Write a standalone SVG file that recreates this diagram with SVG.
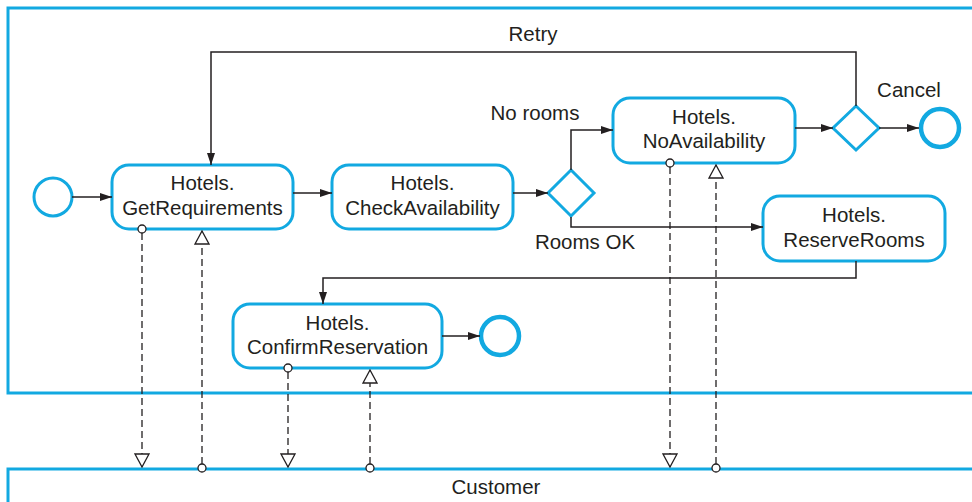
<svg xmlns="http://www.w3.org/2000/svg" width="972" height="502" viewBox="0 0 972 502">
<defs>
<style>
.pool{fill:none;stroke:#12a9e1;stroke-width:3}
.task{fill:#fff;stroke:#12a9e1;stroke-width:3}
.gw{fill:#fff;stroke:#12a9e1;stroke-width:3}
.ev{fill:#fff;stroke:#12a9e1;stroke-width:3}
.evend{fill:#fff;stroke:#12a9e1;stroke-width:4.5}
.t{font-family:"Liberation Sans",Arial,sans-serif;font-size:20.5px;fill:#231f20;text-anchor:middle}
.flow{fill:none;stroke:#231f20;stroke-width:1.5}
.msg{fill:none;stroke:#231f20;stroke-width:1.3;stroke-dasharray:7 4}
.mc{fill:#fff;stroke:#231f20;stroke-width:1.3}
</style>
<marker id="arr" viewBox="0 0 12 8" refX="12" refY="4" markerWidth="12" markerHeight="8" markerUnits="userSpaceOnUse" orient="auto">
<path d="M0,0 L12,4 L0,8 Z" fill="#231f20"/>
</marker>
<marker id="tri" viewBox="0 0 15 16" refX="14" refY="8" markerWidth="15" markerHeight="16" markerUnits="userSpaceOnUse" orient="auto">
<path d="M1,1 L14,8 L1,15 Z" fill="#fff" stroke="#231f20" stroke-width="1.3"/>
</marker>
</defs>
<rect width="972" height="502" fill="#fff"/>
<g id="pool-hotels"><rect class="pool" x="8" y="8" width="1000" height="385"/></g>
<g id="pool-customer"><rect class="pool" x="8" y="469" width="1000" height="60"/><text class="t" x="496" y="494">Customer</text></g>

<g id="start"><circle class="ev" cx="53" cy="197" r="19"/></g>
<g id="getRequirements"><rect class="task" x="112" y="165" width="181" height="64" rx="17"/><text class="t" x="202.5" y="190">Hotels.</text><text class="t" x="202.5" y="215">GetRequirements</text></g>
<g id="checkAvailability"><rect class="task" x="332" y="165" width="181" height="64" rx="17"/><text class="t" x="422.5" y="190">Hotels.</text><text class="t" x="422.5" y="215">CheckAvailability</text></g>
<g id="gateway1"><path class="gw" d="M571,170 L594,193 L571,216 L548,193 Z"/></g>
<g id="noAvailability"><rect class="task" x="613" y="98" width="182" height="65" rx="17"/><text class="t" x="704" y="124">Hotels.</text><text class="t" x="704" y="148">NoAvailability</text></g>
<g id="gateway2"><path class="gw" d="M856,106 L879,128 L856,150 L833,128 Z"/></g>
<g id="endCancel"><circle class="evend" cx="940" cy="128" r="19"/></g>
<g id="reserveRooms"><rect class="task" x="763" y="196" width="182" height="65" rx="17"/><text class="t" x="854" y="222">Hotels.</text><text class="t" x="854" y="247">ReserveRooms</text></g>
<g id="confirmReservation"><rect class="task" x="233" y="304" width="209" height="64" rx="17"/><text class="t" x="337.5" y="330">Hotels.</text><text class="t" x="337.5" y="354">ConfirmReservation</text></g>
<g id="endConfirm"><circle class="evend" cx="500" cy="336" r="19"/></g>

<g id="connectors">
<path class="flow" d="M72,197 H112" marker-end="url(#arr)"/>
<path class="flow" d="M293,193 H332" marker-end="url(#arr)"/>
<path class="flow" d="M513,193 H548" marker-end="url(#arr)"/>
<path class="flow" d="M571,170 V130 H613" marker-end="url(#arr)"/>
<path class="flow" d="M795,128 H833" marker-end="url(#arr)"/>
<path class="flow" d="M879,128 H919" marker-end="url(#arr)"/>
<path class="flow" d="M856,106 V52 H211 V165" marker-end="url(#arr)"/>
<path class="flow" d="M571,217 V227 H763" marker-end="url(#arr)"/>
<path class="flow" d="M856,261 V278 H323 V304" marker-end="url(#arr)"/>
<path class="flow" d="M442,336 H480" marker-end="url(#arr)"/>
<text class="t" x="533" y="41">Retry</text>
<text class="t" x="535" y="120">No rooms</text>
<text class="t" x="585" y="249">Rooms OK</text>
<text class="t" x="909" y="97">Cancel</text>

<path class="msg" d="M142,233 V467" marker-end="url(#tri)"/>
<circle class="mc" cx="142" cy="229" r="4"/>
<path class="msg" d="M202,464 V231" marker-end="url(#tri)"/>
<circle class="mc" cx="202" cy="468" r="4"/>
<path class="msg" d="M288,372 V467" marker-end="url(#tri)"/>
<circle class="mc" cx="288" cy="368" r="4"/>
<path class="msg" d="M370,464 V370" marker-end="url(#tri)"/>
<circle class="mc" cx="370" cy="468" r="4"/>
<path class="msg" d="M670,167 V467" marker-end="url(#tri)"/>
<circle class="mc" cx="670" cy="163" r="4"/>
<path class="msg" d="M716,464 V165" marker-end="url(#tri)"/>
<circle class="mc" cx="716" cy="468" r="4"/>
</g>
</svg>
